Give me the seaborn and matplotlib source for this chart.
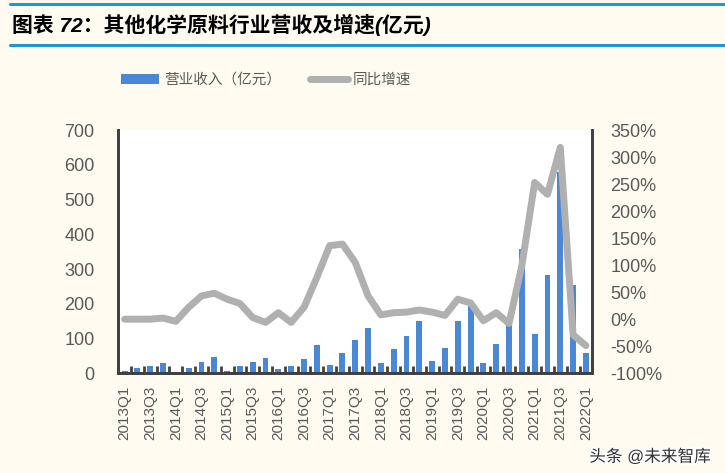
import numpy as np
import pandas as pd
import seaborn as sns
import matplotlib.pyplot as plt
from matplotlib.patches import Patch
from matplotlib.lines import Line2D
import matplotlib.patheffects as pe

# quarters 2013Q1 .. 2022Q1
quarters = [f"{y}Q{q}" for y in range(2013, 2022) for q in range(1, 5)] + ["2022Q1"]

# revenue (亿元)
revenue = [5, 15, 21, 29, 3, 15, 33, 47, 7, 21, 33, 43, 11, 21, 40, 81,
           25, 59, 95, 129, 29, 69, 107, 151, 34, 73, 151, 194, 30, 85, 140, 358,
           114, 284, 579, 255, 58]

# yoy growth (%)
growth = [0, 0, 0, 2, -4, 22, 43, 48, 37, 29, 3, -6, 12, -6, 22, 77,
          136, 139, 105, 43, 8, 12, 13, 17, 13, 7, 37, 30, -3, 12, -8, 99,
          253, 231, 318, -29, -49]

show_labels = quarters[::2]

df = pd.DataFrame({"quarter": quarters, "revenue": revenue, "growth": growth,
                   "pos": np.arange(len(quarters))})

sns.set_style("white")
plt.rcParams['font.family'] = ['Liberation Sans', 'Noto Sans CJK SC']

bg = '#FFFBF1'
blue = '#4A88D6'
grey_line = '#B0B0B0'
txt = '#595959'
spine_c = '#404040'

fig = plt.figure(figsize=(7.25, 4.73), dpi=100, facecolor=bg)
ax = fig.add_axes([0.163, 0.211, 0.654, 0.514])
ax.set_facecolor('white')

sns.barplot(data=df, x="quarter", y="revenue", order=quarters, color=blue,
            width=0.46, saturation=1, linewidth=0, ax=ax)
ax.set_ylim(0, 700)
ax.set_yticks(range(0, 701, 100))
ax.set_xlim(-0.5, len(quarters) - 0.5)
ax.set_xticks(range(0, len(quarters), 2))
ax.set_xticklabels(show_labels, rotation=90)
ax.set_xticks(np.arange(0.5, len(quarters) - 0.5, 1), minor=True)
ax.tick_params(axis='x', which='major', bottom=True, length=0, pad=9,
               labelsize=11, labelcolor=txt)
ax.tick_params(axis='x', which='minor', bottom=True, direction='in', length=5,
               width=2, color=spine_c)
ax.tick_params(axis='y', length=0, labelsize=13, labelcolor=txt, pad=17)
ax.set_xlabel("")
ax.set_ylabel("")

ax2 = ax.twinx()
sns.lineplot(data=df, x="pos", y="growth", color=grey_line, linewidth=5,
             ax=ax2, solid_joinstyle='round', solid_capstyle='round')
ax2.set_ylim(-100, 350)
ax2.set_yticks(range(-100, 351, 50))
ax2.set_yticklabels([f"{v}%" for v in range(-100, 351, 50)])
ax2.tick_params(axis='y', length=0, labelsize=13, labelcolor=txt, pad=13)
ax2.set_ylabel("")
ax2.set_xlabel("")
ax2.set_xlim(-0.5, len(quarters) - 0.5)

for a in (ax, ax2):
    a.spines['top'].set_visible(False)
    for s in ('left', 'right', 'bottom'):
        a.spines[s].set_color(spine_c)
        a.spines[s].set_linewidth(2)

# legend
handles = [Patch(facecolor=blue, edgecolor='none'),
           Line2D([0], [0], color=grey_line, linewidth=5, solid_capstyle='round')]
fig.legend(handles, ["营业收入（亿元）", "同比增速"], loc='center', ncol=2,
           bbox_to_anchor=(0.367, 0.831), frameon=False, fontsize=10.5,
           labelcolor=txt, handlelength=2.6, handleheight=0.7, columnspacing=2.0,
           handletextpad=0.35)

# title with blue rules
title_blue = '#1A98D5'
fig.add_artist(Line2D([0.014, 1.0], [0.992, 0.992], color=title_blue, linewidth=2.2,
                      transform=fig.transFigure))
fig.add_artist(Line2D([0.014, 1.0], [0.905, 0.905], color=title_blue, linewidth=2.2,
                      transform=fig.transFigure))
fig.text(0.017, 0.948, "图表 72：其他化学原料行业营收及增速(亿元)", fontsize=15,
         fontweight='bold', color='black', ha='left', va='center', style='italic')

# watermark
fig.text(0.98, 0.035, "头条 @未来智库", fontsize=12, color='#333333', ha='right',
         va='center', path_effects=[pe.withStroke(linewidth=3, foreground='white')])

fig.savefig("out.png", dpi=100, facecolor=bg)
